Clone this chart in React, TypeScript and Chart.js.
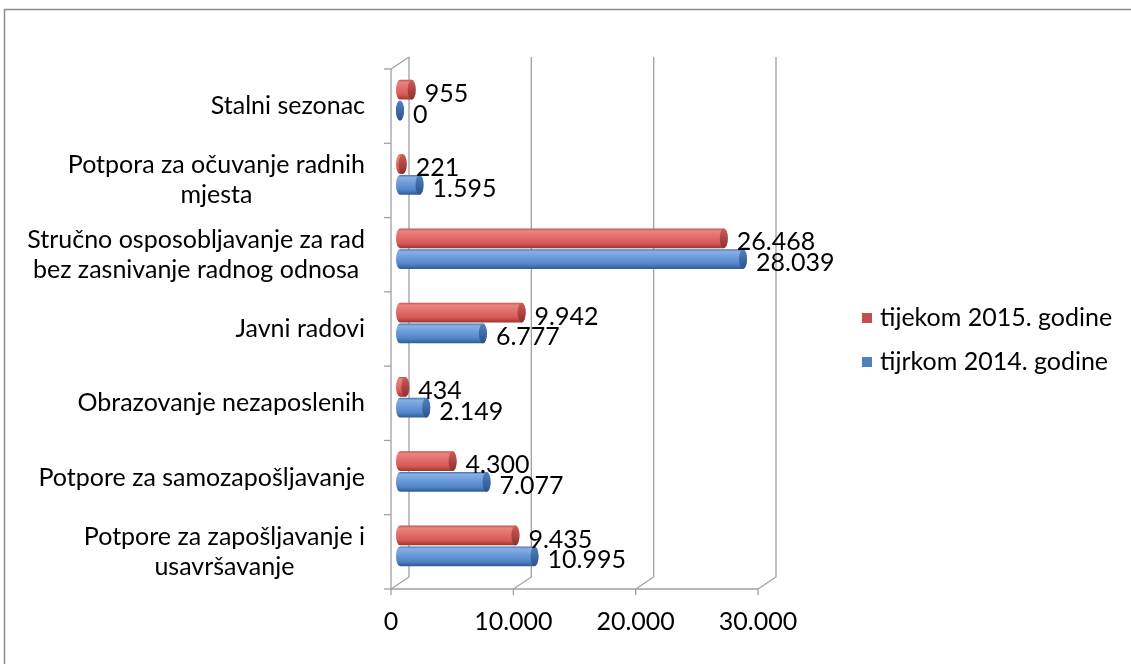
import React, { useEffect, useRef } from "react";
import { Chart, registerables } from "chart.js";

Chart.register(...registerables);

const categories: string[][] = [
  ["Stalni sezonac"],
  ["Potpora za očuvanje radnih", "mjesta"],
  ["Stručno osposobljavanje za rad", "bez zasnivanje radnog odnosa"],
  ["Javni radovi"],
  ["Obrazovanje nezaposlenih"],
  ["Potpore za samozapošljavanje"],
  ["Potpore za zapošljavanje i", "usavršavanje"],
];
const series2015 = [955, 221, 26468, 9942, 434, 4300, 9435];
const series2014 = [0, 1595, 28039, 6777, 2149, 7077, 10995];
const seriesNames = ["tijekom 2015. godine", "tijrkom 2014. godine"];
const seriesColors = ["#C0504D", "#4F81BD"];
const xTicks = [0, 10000, 20000, 30000];
const xTickLabels = ["0", "10.000", "20.000", "30.000"];

const FONT_FAMILY = "Lato, 'Open Sans', sans-serif";
const FONT_SIZE = 25;
const DEPTH = { x: 18, y: -12 };
const MID = { x: 9, y: -6 };

const palettes = [
  { edge: "#bf524f", light: "#ea8480", light2: "#e3706c", base: "#d75854", dark: "#9c3533", capT: "#cc5c58", capB: "#8e2f2d" },
  { edge: "#4573ae", light: "#88b0e6", light2: "#6e9cda", base: "#5185c9", dark: "#2f5a95", capT: "#5282c2", capB: "#2c528b" },
];

const fmt = (v: number) => v.toString().replace(/\B(?=(\d{3})+(?!\d))/g, ".");

function drawCylinder(ctx: CanvasRenderingContext2D, x0: number, x1: number, yc: number, h: number, pal: any) {
  const rx = 4;
  const t = yc - h / 2;
  const b = yc + h / 2;
  const g = ctx.createLinearGradient(0, t, 0, b);
  g.addColorStop(0, pal.edge);
  g.addColorStop(0.12, pal.light);
  g.addColorStop(0.4, pal.light2);
  g.addColorStop(0.75, pal.base);
  g.addColorStop(1, pal.dark);
  ctx.fillStyle = g;
  ctx.beginPath();
  ctx.moveTo(x0, t);
  ctx.lineTo(x1, t);
  ctx.ellipse(x1, yc, rx, h / 2, 0, -Math.PI / 2, Math.PI / 2);
  ctx.lineTo(x0, b);
  ctx.ellipse(x0, yc, rx, h / 2, 0, Math.PI / 2, (3 * Math.PI) / 2);
  ctx.closePath();
  ctx.fill();
  const cg = ctx.createLinearGradient(0, t, 0, b);
  cg.addColorStop(0, pal.capT);
  cg.addColorStop(1, pal.capB);
  ctx.fillStyle = cg;
  ctx.beginPath();
  ctx.ellipse(x1, yc, rx, h / 2, 0, 0, Math.PI * 2);
  ctx.fill();
}

const threeDPlugin = {
  id: "threeD",
  beforeDatasetsDraw(chart: any) {
    const ctx: CanvasRenderingContext2D = chart.ctx;
    const xs = chart.scales.x;
    const ys = chart.scales.y;
    const ca = chart.chartArea;
    const top = ca.top;
    const bot = ca.bottom;
    ctx.save();

    // outer border
    ctx.strokeStyle = "#8c8c8c";
    ctx.lineWidth = 1.5;
    ctx.beginPath();
    ctx.moveTo(4.5, chart.height);
    ctx.lineTo(4.5, 9.5);
    ctx.lineTo(chart.width, 9.5);
    ctx.stroke();

    // back wall gridlines + floor diagonals + ticks
    ctx.strokeStyle = "#a0a0a0";
    ctx.lineWidth = 1.3;
    xTicks.forEach((v) => {
      const fx = xs.getPixelForValue(v);
      const bx = fx + DEPTH.x;
      ctx.beginPath();
      ctx.moveTo(bx, top + DEPTH.y);
      ctx.lineTo(bx, bot + DEPTH.y);
      ctx.lineTo(fx, bot);
      ctx.lineTo(fx, bot + 6);
      ctx.stroke();
    });
    const x0 = xs.getPixelForValue(0);
    const xMax = xs.getPixelForValue(xTicks[xTicks.length - 1]);
    ctx.beginPath();
    ctx.moveTo(x0, bot);
    ctx.lineTo(xMax, bot);
    ctx.stroke();
    // left wall
    ctx.beginPath();
    ctx.moveTo(x0 + DEPTH.x, top + DEPTH.y);
    ctx.lineTo(x0, top);
    ctx.lineTo(x0, bot);
    ctx.stroke();
    for (let i = 0; i <= categories.length; i++) {
      const y = ys.getPixelForValue(i - 0.5);
      ctx.beginPath();
      ctx.moveTo(x0 - 7, y);
      ctx.lineTo(x0, y);
      ctx.stroke();
    }

    // cylinders
    chart.data.datasets.forEach((_ds: any, di: number) => {
      const meta = chart.getDatasetMeta(di);
      meta.data.forEach((el: any) => {
        const p = el.getProps(["x", "y", "base", "height"], true);
        drawCylinder(ctx, p.base + MID.x, p.x + MID.x, p.y + MID.y, p.height, palettes[di]);
      });
    });

    ctx.font = `${FONT_SIZE}px ${FONT_FAMILY}`;
    ctx.fillStyle = "#000";
    ctx.textBaseline = "middle";

    // value labels
    ctx.textAlign = "left";
    chart.data.datasets.forEach((ds: any, di: number) => {
      const meta = chart.getDatasetMeta(di);
      meta.data.forEach((el: any, i: number) => {
        const v = ds.data[i];
        const p = el.getProps(["y"], true);
        ctx.fillText(fmt(v), xs.getPixelForValue(v) + 22, p.y - 2);
      });
    });

    // category labels
    ctx.textAlign = "center";
    const lineH = 30;
    const right = x0 - 26;
    categories.forEach((lines, i) => {
      const cy = ys.getPixelForValue(i);
      const w = Math.max(...lines.map((l) => ctx.measureText(l).width));
      const cx = right - w / 2;
      lines.forEach((l, li) => {
        ctx.fillText(l, cx, cy + (li - (lines.length - 1) / 2) * lineH);
      });
    });

    // x tick labels
    xTicks.forEach((v, i) => {
      ctx.fillText(xTickLabels[i], xs.getPixelForValue(v), bot + 33);
    });

    // legend
    ctx.textAlign = "left";
    const legendY = [318, 362];
    seriesNames.forEach((name, i) => {
      ctx.fillStyle = seriesColors[i];
      ctx.fillRect(862, legendY[i] - 5, 10, 10);
      ctx.fillStyle = "#000";
      ctx.fillText(name, 880, legendY[i]);
    });

    ctx.restore();
    return false;
  },
};

export default function App() {
  const ref = useRef<HTMLCanvasElement>(null);
  useEffect(() => {
    if (!ref.current) return;
    const chart = new Chart(ref.current, {
      type: "bar",
      data: {
        labels: categories as any,
        datasets: [
          { label: seriesNames[0], data: series2015, backgroundColor: seriesColors[0], categoryPercentage: 0.56, barPercentage: 0.95 },
          { label: seriesNames[1], data: series2014, backgroundColor: seriesColors[1], categoryPercentage: 0.56, barPercentage: 0.95 },
        ],
      },
      options: {
        indexAxis: "y",
        responsive: false,
        animation: false,
        events: [],
        layout: { padding: { left: 391, right: 373, top: 69, bottom: 75 } },
        scales: {
          x: { display: false, min: 0, max: 30000 },
          y: { display: false },
        },
        plugins: { legend: { display: false }, tooltip: { enabled: false } },
      },
      plugins: [threeDPlugin as any],
    });
    return () => chart.destroy();
  }, []);
  return (
    <div style={{ position: "absolute", left: 0, top: 0, width: 1131, height: 664, background: "#fff" }}>
      <canvas ref={ref} width={1131} height={664} />
    </div>
  );
}
